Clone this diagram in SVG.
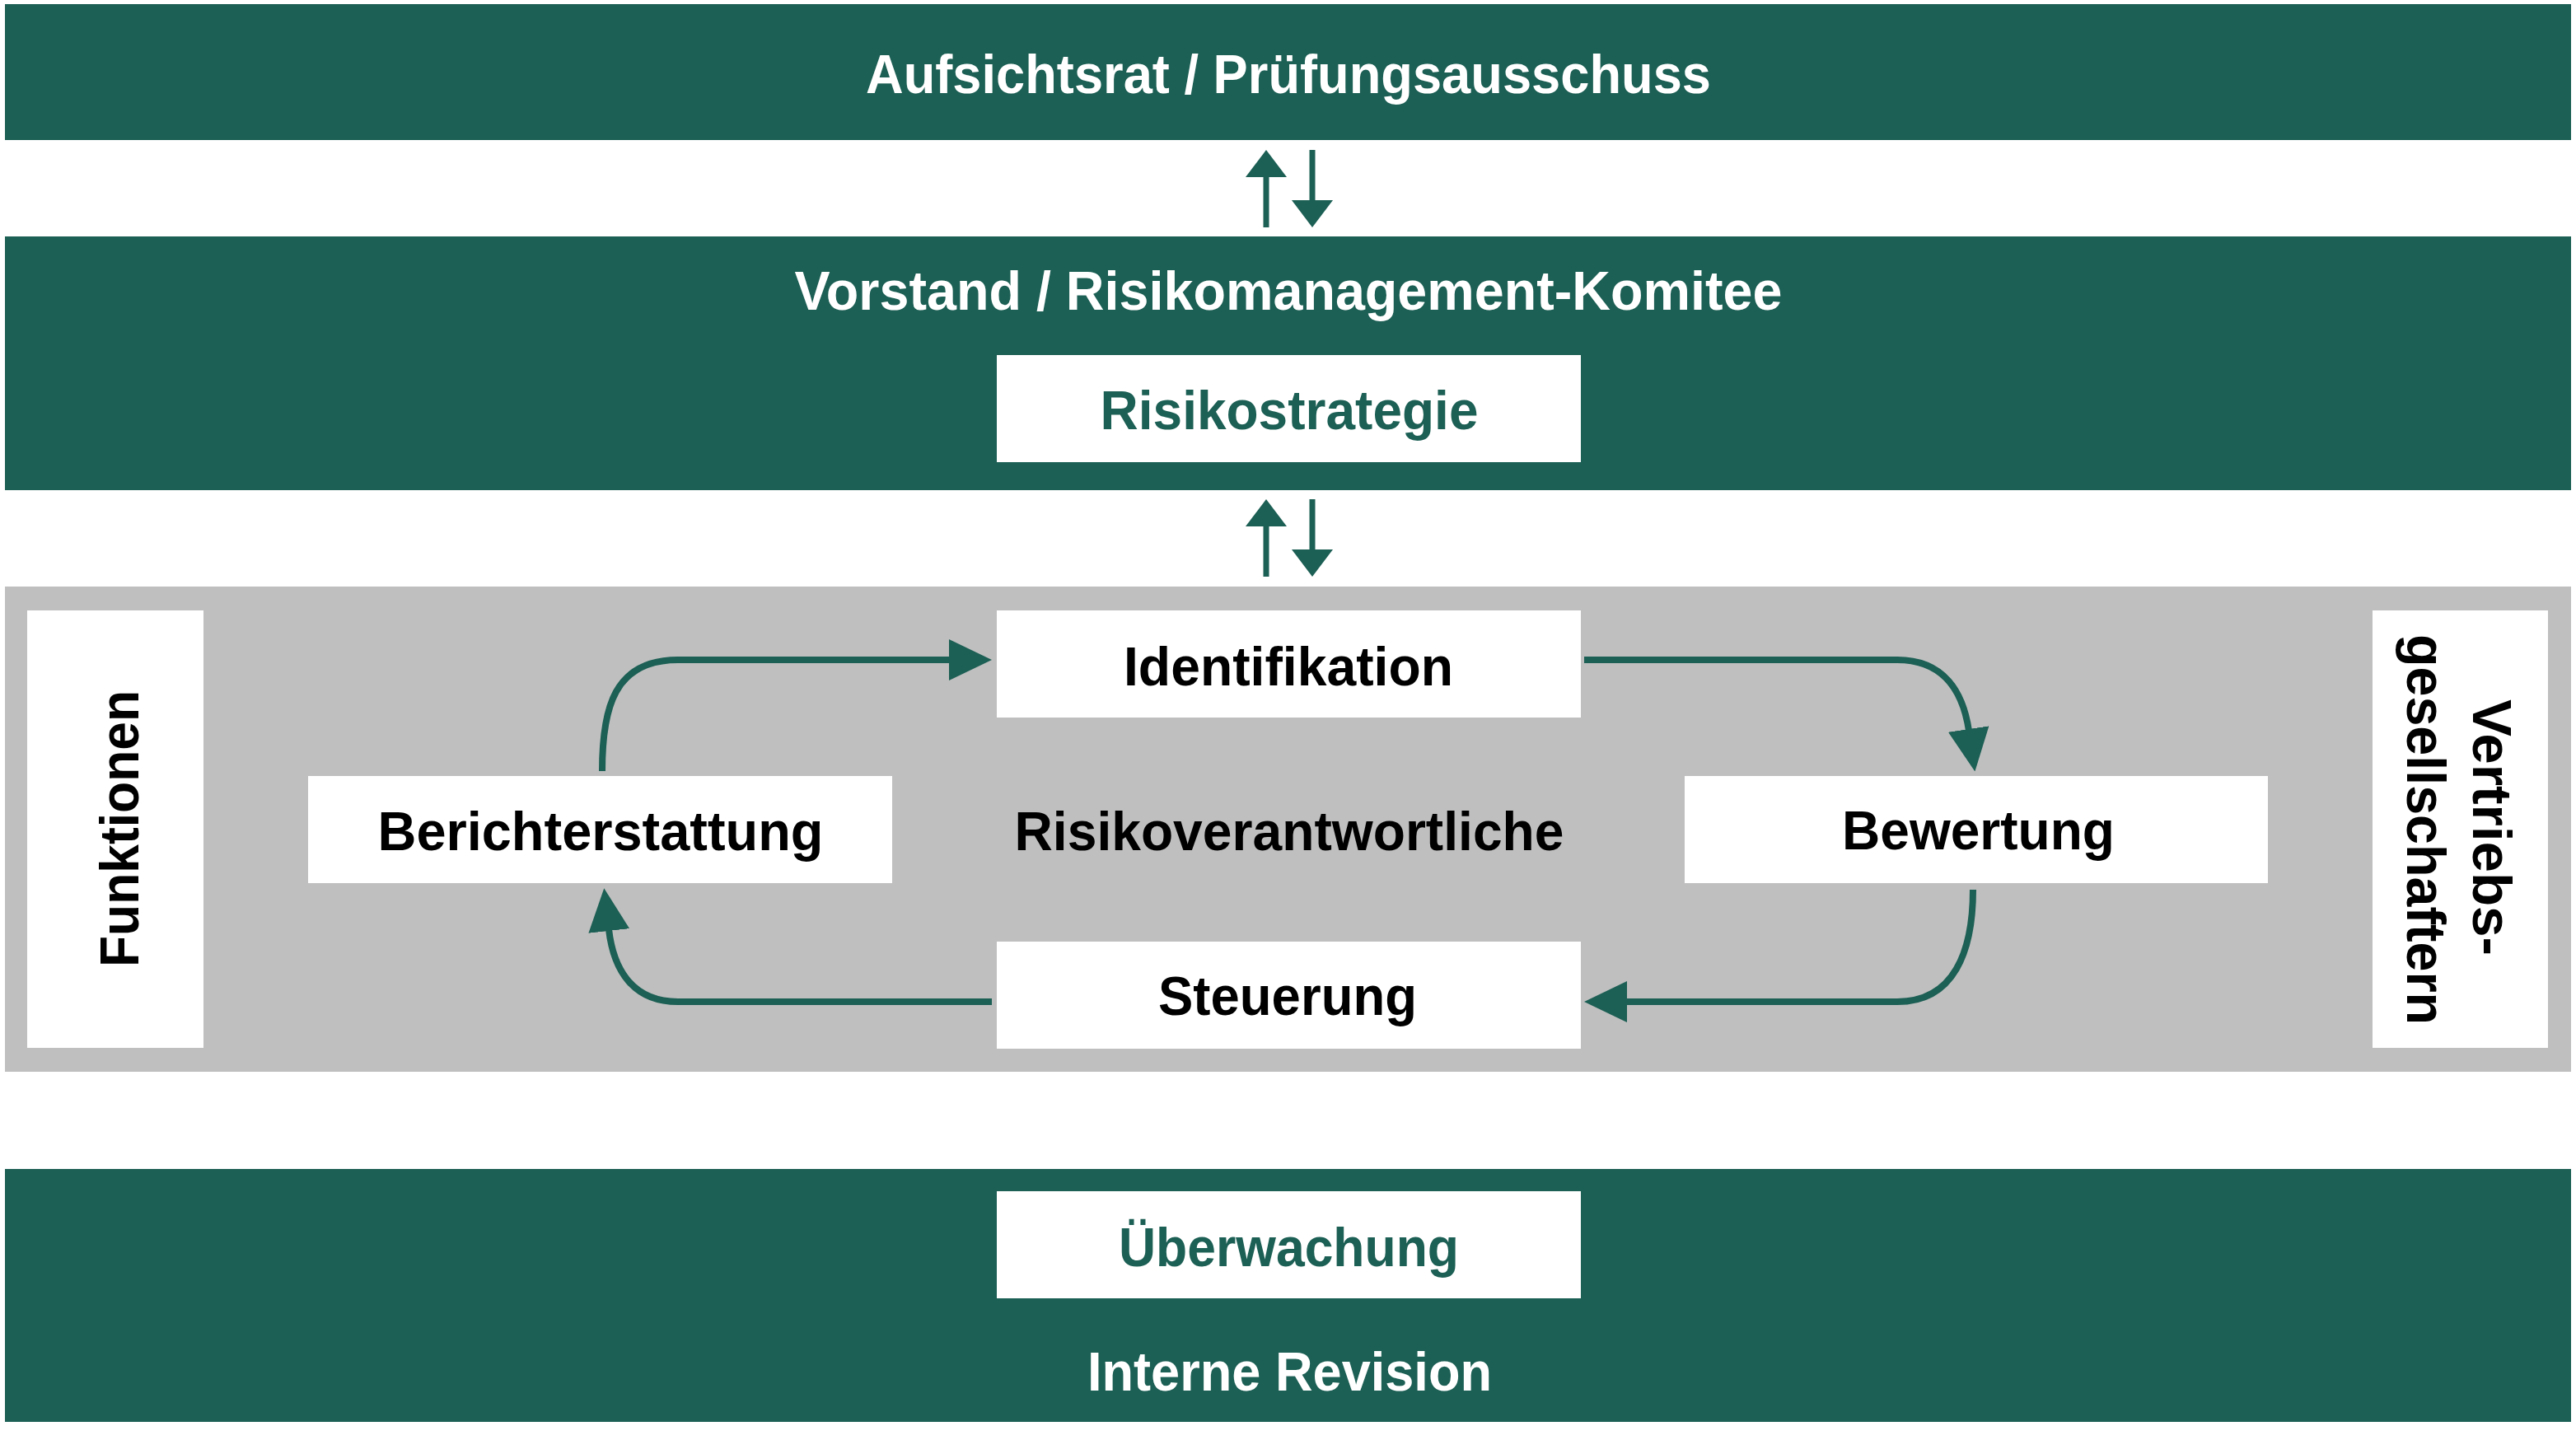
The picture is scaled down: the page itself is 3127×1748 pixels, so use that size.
<svg xmlns="http://www.w3.org/2000/svg" width="3127" height="1748" viewBox="0 0 3127 1748">
<defs>
<style>
.band{fill:#1c5f54}
.panel{fill:#bfbfbf}
.box{fill:#ffffff}
.t{font-family:"Liberation Sans",Arial,sans-serif;font-weight:bold;font-size:67px;text-anchor:middle}
.w{fill:#ffffff}
.g{fill:#1c5f54}
.k{fill:#000000}
.con{fill:none;stroke:#1c5f54;stroke-width:8}
.vcon{fill:none;stroke:#1c5f54;stroke-width:7}
.head{fill:#1c5f54}
</style>
<marker id="ah" markerUnits="userSpaceOnUse" viewBox="0 0 52 50" refX="2" refY="25" markerWidth="52" markerHeight="50" orient="auto">
<path d="M0,0 L52,25 L0,50 z" fill="#1c5f54"/>
</marker>
</defs>
<rect width="3127" height="1748" fill="#ffffff"/>

<g id="aufsichtsrat">
<rect class="band" x="6" y="5" width="3115" height="165"/>
<text class="t w" x="1564" y="113" textLength="1026" lengthAdjust="spacingAndGlyphs">Aufsichtsrat / Prüfungsausschuss</text>
</g>

<g id="vorstand">
<rect class="band" x="6" y="287" width="3115" height="308"/>
<text class="t w" x="1564" y="376" textLength="1199" lengthAdjust="spacingAndGlyphs">Vorstand / Risikomanagement-Komitee</text>
</g>

<g id="risikostrategie">
<rect class="box" x="1210" y="431" width="709" height="130"/>
<text class="t g" x="1565" y="521" textLength="459" lengthAdjust="spacingAndGlyphs">Risikostrategie</text>
</g>

<g id="risikoverantwortliche">
<rect class="panel" x="6" y="712" width="3115" height="589"/>
<text class="t k" x="1565" y="1032" textLength="667" lengthAdjust="spacingAndGlyphs">Risikoverantwortliche</text>
</g>

<g id="funktionen">
<rect class="box" x="33" y="741" width="214" height="531"/>
<text class="t k" transform="translate(168,1006) rotate(-90)" x="0" y="0" textLength="336" lengthAdjust="spacingAndGlyphs">Funktionen</text>
</g>

<g id="vertriebsgesellschaftern">
<rect class="box" x="2880" y="741" width="213" height="531"/>
<text class="t k" transform="translate(3002,1004.5) rotate(90)" x="0" y="0" textLength="311" lengthAdjust="spacingAndGlyphs">Vertriebs-</text>
<text class="t k" transform="translate(2922,1007) rotate(90)" x="0" y="0" textLength="474" lengthAdjust="spacingAndGlyphs">gesellschaftern</text>
</g>

<g id="identifikation">
<rect class="box" x="1210" y="741" width="709" height="130"/>
<text class="t k" x="1564" y="832" textLength="400" lengthAdjust="spacingAndGlyphs">Identifikation</text>
</g>

<g id="berichterstattung">
<rect class="box" x="374" y="942" width="709" height="130"/>
<text class="t k" x="729" y="1032" textLength="541" lengthAdjust="spacingAndGlyphs">Berichterstattung</text>
</g>

<g id="bewertung">
<rect class="box" x="2045" y="942" width="708" height="130"/>
<text class="t k" x="2401.5" y="1031" textLength="331" lengthAdjust="spacingAndGlyphs">Bewertung</text>
</g>

<g id="steuerung">
<rect class="box" x="1210" y="1143" width="709" height="130"/>
<text class="t k" x="1563" y="1232" textLength="314" lengthAdjust="spacingAndGlyphs">Steuerung</text>
</g>

<g id="interne-revision">
<rect class="band" x="6" y="1419" width="3115" height="307"/>
<text class="t w" x="1565.5" y="1688" textLength="491" lengthAdjust="spacingAndGlyphs">Interne Revision</text>
</g>

<g id="ueberwachung">
<rect class="box" x="1210" y="1446" width="709" height="130"/>
<text class="t g" x="1564.5" y="1537" textLength="413" lengthAdjust="spacingAndGlyphs">Überwachung</text>
</g>

<g id="connectors">
<line class="vcon" x1="1537" y1="276" x2="1537" y2="213"/>
<polygon class="head" points="1512,215 1537,182 1562,215"/>
<line class="vcon" x1="1593" y1="182" x2="1593" y2="245"/>
<polygon class="head" points="1568,243 1593,276 1618,243"/>
<line class="vcon" x1="1537" y1="700" x2="1537" y2="637"/>
<polygon class="head" points="1512,639 1537,606 1562,639"/>
<line class="vcon" x1="1593" y1="606" x2="1593" y2="669"/>
<polygon class="head" points="1568,667 1593,700 1618,667"/>
<path class="con" d="M731,936 C731,860 745,801 823,801 L1154,801" marker-end="url(#ah)"/>
<path class="con" d="M1923,801 L2303,801 C2360,801 2383,840 2390,887" marker-end="url(#ah)"/>
<path class="con" d="M2395,1080 C2395,1155 2372,1216 2303,1216 L1973,1216" marker-end="url(#ah)"/>
<path class="con" d="M1204,1216 L823,1216 C770,1216 745,1180 739,1128" marker-end="url(#ah)"/>
</g>
</svg>
